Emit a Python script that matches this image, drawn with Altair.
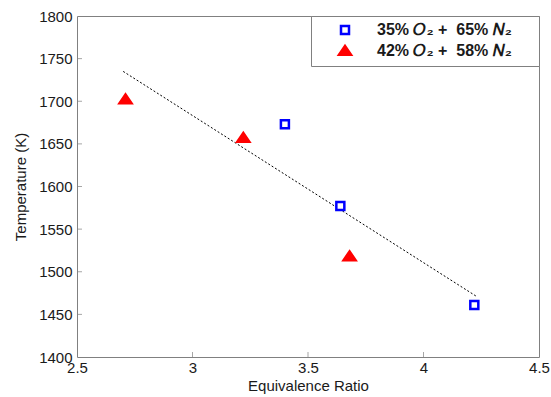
import altair as alt
import pandas as pd

# Data
phi_35 = [3.40, 3.64, 4.22]
T_35 = [1673, 1577, 1461]
phi_42 = [2.71, 3.22, 3.68]
T_42 = [1702, 1657, 1518]
fit_phi = [2.70, 4.23]
fit_T = [1735, 1471]

NB = "\u00a0"
PAD = NB * 2 + "\u2800"
lab_35 = "35%" + NB + "𝑂₂" + NB + "+" + NB * 2 + "65%" + NB + "𝑁₂" + PAD
lab_42 = "42%" + NB + "𝑂₂" + NB + "+" + NB * 2 + "58%" + NB + "𝑁₂" + PAD

x_ticks = [2.5, 3, 3.5, 4, 4.5]
y_ticks = [1400, 1450, 1500, 1550, 1600, 1650, 1700, 1750, 1800]
inner_x = [3, 3.5, 4]
inner_y = [1450, 1500, 1550, 1600, 1650, 1700, 1750]

pts = pd.DataFrame({
    "phi": phi_35 + phi_42,
    "T": T_35 + T_42,
    "mix": [lab_35] * len(phi_35) + [lab_42] * len(phi_42),
})
fit = pd.DataFrame({"phi": fit_phi, "T": fit_T})
tx = pd.DataFrame({"phi": inner_x, "T": [1400] * len(inner_x)})
ty = pd.DataFrame({"phi": [2.5] * len(inner_y), "T": inner_y})

FONT = "Liberation Sans"

xs = alt.Scale(domain=[2.5, 4.5], nice=False, zero=False)
ys = alt.Scale(domain=[1400, 1800], nice=False, zero=False)

x_axis = alt.Axis(values=x_ticks, labelExpr="'' + datum.value", grid=False,
                  ticks=False, domain=False, labelFlush=False, labelOverlap=False,
                  labelPadding=3, titlePadding=3, title="Equivalence Ratio")
y_axis = alt.Axis(values=y_ticks, format="d", grid=False, ticks=False, domain=False,
                  labelFlush=False, labelOverlap=False, labelPadding=5,
                  titlePadding=10, title="Temperature (K)")

line = alt.Chart(fit).mark_line(color="black", strokeDash=[2, 2], strokeWidth=1).encode(
    x=alt.X("phi:Q", scale=xs, axis=x_axis),
    y=alt.Y("T:Q", scale=ys, axis=y_axis),
)

TRI = "M-1.5,0.95L1.5,0.95L0,-1.25Z"
dom = [lab_35, lab_42]
points = alt.Chart(pts).mark_point(filled=False, opacity=1, size=64, strokeWidth=2.5).encode(
    x=alt.X("phi:Q", scale=xs),
    y=alt.Y("T:Q", scale=ys),
    shape=alt.Shape("mix:N", scale=alt.Scale(domain=dom, range=["square", TRI]), title=None),
    color=alt.Color("mix:N", scale=alt.Scale(domain=dom, range=["#0000ff", "#ff0000"]), title=None),
    fill=alt.Fill("mix:N", scale=alt.Scale(domain=dom, range=["#ffffff", "#ff0000"]), title=None),
)

tick_x = alt.Chart(tx).mark_tick(orient="vertical", size=5, thickness=1, color="#808080", yOffset=-2.5).encode(
    x=alt.X("phi:Q", scale=xs), y=alt.Y("T:Q", scale=ys))
tick_y = alt.Chart(ty).mark_tick(orient="horizontal", size=5, thickness=1, color="#808080", xOffset=2.5).encode(
    x=alt.X("phi:Q", scale=xs), y=alt.Y("T:Q", scale=ys))

chart = alt.layer(tick_x, tick_y, line, points).properties(
    width=462, height=341,
    autosize=alt.AutoSizeParams(type="none"),
    padding={"left": 77, "top": 16, "right": 12, "bottom": 40},
).configure_view(
    stroke="#808080", strokeWidth=1
).configure_axis(
    labelFont=FONT, titleFont=FONT, labelFontSize=15, titleFontSize=15,
    labelColor="#1a1a1a", titleColor="#1a1a1a", titleFontWeight="normal",
).configure_legend(
    orient="top-right", offset=0, padding=6, symbolOffset=20, labelOffset=24,
    fillColor="white", strokeColor="#808080", labelFont=FONT, labelFontSize=16,
    labelFontWeight="bold", labelColor="#1a1a1a", rowPadding=2, labelLimit=400,
    symbolSize=64, symbolStrokeWidth=2.5,
)

chart.save("out.html", embed_options={"renderer": "svg", "actions": False})
